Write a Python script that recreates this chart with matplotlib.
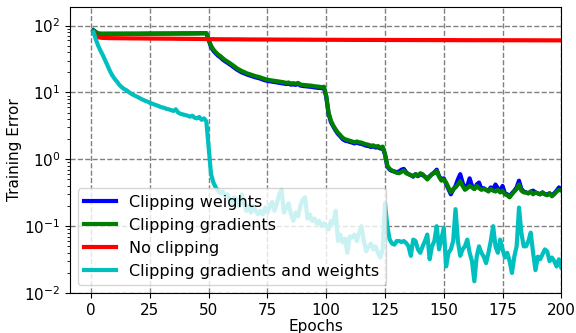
import numpy as np
import matplotlib
matplotlib.use('Agg')
from matplotlib import pyplot as plt

epochs = np.arange(1, 201)

no_clip = [80, 70, 67, 66, 65.5, 65.3, 65.2, 65, 65, 65,
           64.8, 64.8, 64.7, 64.7, 64.6, 64.6, 64.5, 64.5, 64.4, 64.4,
           64.3, 64.3, 64.2, 64.2, 64.1, 64.1, 64, 64, 64, 63.9,
           63.9, 63.8, 63.8, 63.7, 63.7, 63.6, 63.6, 63.5, 63.5, 63.4,
           63.4, 63.3, 63.3, 63.2, 63.2, 63.1, 63.1, 63, 63, 62.8,
           62.7, 62.7, 62.6, 62.6, 62.5, 62.5, 62.5, 62.4, 62.4, 62.4,
           62.3, 62.3, 62.3, 62.2, 62.2, 62.2, 62.1, 62.1, 62.1, 62,
           62, 62, 62, 61.9, 61.9, 61.9, 61.9, 61.8, 61.8, 61.8,
           61.8, 61.7, 61.7, 61.7, 61.7, 61.6, 61.6, 61.6, 61.6, 61.6,
           61.5, 61.5, 61.5, 61.5, 61.5, 61.4, 61.4, 61.4, 61.4, 61.4,
           61.3, 61.3, 61.3, 61.3, 61.3, 61.3, 61.2, 61.2, 61.2, 61.2,
           61.2, 61.2, 61.1, 61.1, 61.1, 61.1, 61.1, 61.1, 61.1, 61,
           61, 61, 61, 61, 61, 61, 61, 60.9, 60.9, 60.9,
           60.9, 60.9, 60.9, 60.9, 60.9, 60.8, 60.8, 60.8, 60.8, 60.8,
           60.8, 60.8, 60.8, 60.8, 60.7, 60.7, 60.7, 60.7, 60.7, 60.7,
           60.7, 60.7, 60.7, 60.6, 60.6, 60.6, 60.6, 60.6, 60.6, 60.6,
           60.6, 60.6, 60.6, 60.5, 60.5, 60.5, 60.5, 60.5, 60.5, 60.5,
           60.5, 60.5, 60.5, 60.5, 60.4, 60.4, 60.4, 60.4, 60.4, 60.4,
           60.4, 60.4, 60.4, 60.4, 60.4, 60.3, 60.3, 60.3, 60.3, 60.3,
           60.3, 60.3, 60.3, 60.3, 60.3, 60.3, 60.3, 60.2, 60.2, 60.2]

clip_grad = [85, 80, 76, 75.5, 75.5, 75.5, 75.5, 75.5, 75.5, 75.5,
             75.5, 75.5, 75.6, 75.6, 75.6, 75.6, 75.6, 75.7, 75.7, 75.7,
             75.8, 75.8, 75.8, 75.9, 75.9, 75.9, 76, 76, 76, 76,
             76.1, 76.1, 76.1, 76.2, 76.2, 76.2, 76.3, 76.3, 76.3, 76.4,
             76.4, 76.5, 76.5, 76.6, 76.6, 76.7, 76.8, 76.9, 77, 62,
             50, 44, 40, 37, 35, 32.5, 30.5, 29, 27.5, 26,
             24.5, 23, 22, 21, 20.3, 19.5, 19, 18.5, 18, 17.5,
             17.2, 16.8, 16.3, 15.9, 15.5, 15.3, 15.1, 14.9, 14.7, 14.5,
             14.3, 14.2, 13.9, 14.1, 13.6, 13.8, 13.5, 13.9, 13.2, 13,
             12.9, 12.8, 12.7, 12.6, 12.4, 12.3, 12.2, 12, 12.2, 9,
             5, 3.8, 3.2, 2.8, 2.5, 2.3, 2.1, 2, 1.95, 1.9,
             1.85, 1.8, 1.85, 1.8, 1.78, 1.72, 1.68, 1.65, 1.6, 1.62,
             1.55, 1.58, 1.5, 1.55, 1.2, 0.8, 0.72, 0.68, 0.65, 0.63,
             0.62, 0.65, 0.68, 0.62, 0.6, 0.58, 0.56, 0.6, 0.57, 0.62,
             0.6, 0.55, 0.5, 0.55, 0.6, 0.62, 0.67, 0.55, 0.48, 0.5,
             0.45, 0.38, 0.32, 0.36, 0.38, 0.42, 0.47, 0.4, 0.35, 0.37,
             0.4, 0.38, 0.36, 0.4, 0.37, 0.35, 0.36, 0.35, 0.33, 0.36,
             0.34, 0.33, 0.35, 0.32, 0.34, 0.3, 0.29, 0.27, 0.3, 0.33,
             0.36, 0.42, 0.34, 0.32, 0.32, 0.31, 0.33, 0.3, 0.32, 0.31,
             0.3, 0.32, 0.3, 0.29, 0.31, 0.28, 0.3, 0.33, 0.35, 0.34]

clip_weights = [85, 80, 76, 75.5, 75.5, 75.5, 75.5, 75.5, 75.5, 75.5,
                75.5, 75.5, 75.6, 75.6, 75.6, 75.6, 75.6, 75.7, 75.7, 75.7,
                75.8, 75.8, 75.8, 75.9, 75.9, 75.9, 76, 76, 76, 76,
                76.1, 76.1, 76.1, 76.2, 76.2, 76.2, 76.3, 76.3, 76.3, 76.4,
                76.4, 76.5, 76.5, 76.6, 76.6, 76.7, 76.8, 76.9, 77, 61,
                48, 42, 38.5, 35.5, 33.5, 31, 29.2, 27.8, 26.3, 24.8,
                23.4, 22, 21, 20, 19.4, 18.7, 18.2, 17.7, 17.2, 16.8,
                16.5, 16.1, 15.6, 15.2, 14.9, 14.7, 14.5, 14.3, 14.1, 13.9,
                13.7, 13.6, 13.4, 13.5, 13.1, 13.2, 13, 13.4, 12.7, 12.5,
                12.4, 12.3, 12.2, 12.1, 11.9, 11.8, 11.7, 11.6, 11.8, 8.6,
                4.8, 3.6, 3.1, 2.7, 2.4, 2.2, 2, 1.9, 1.87, 1.82,
                1.78, 1.73, 1.78, 1.72, 1.7, 1.65, 1.6, 1.58, 1.53, 1.56,
                1.5, 1.52, 1.45, 1.5, 1.18, 0.78, 0.7, 0.67, 0.66, 0.64,
                0.66, 0.7, 0.72, 0.64, 0.6, 0.58, 0.55, 0.6, 0.56, 0.6,
                0.58, 0.55, 0.52, 0.56, 0.6, 0.64, 0.7, 0.56, 0.5, 0.52,
                0.43, 0.36, 0.3, 0.35, 0.4, 0.5, 0.6, 0.45, 0.36, 0.4,
                0.52, 0.4, 0.36, 0.42, 0.45, 0.36, 0.37, 0.35, 0.34, 0.38,
                0.36, 0.42, 0.37, 0.33, 0.4, 0.31, 0.3, 0.28, 0.31, 0.34,
                0.38, 0.48, 0.36, 0.33, 0.32, 0.31, 0.33, 0.34, 0.32, 0.31,
                0.3, 0.32, 0.3, 0.3, 0.31, 0.29, 0.31, 0.34, 0.38, 0.35]

clip_both = [80, 62, 50, 42, 36, 30, 25, 21, 18, 16,
             14.5, 13, 12, 11.3, 10.8, 10.2, 9.6, 9.2, 8.8, 8.5,
             8.1, 7.8, 7.5, 7.3, 7, 6.8, 6.6, 6.4, 6.2, 6,
             5.9, 5.7, 5.6, 5.45, 5.3, 5.6, 5, 4.8, 4.7, 4.6,
             4.5, 4.35, 4.5, 4.2, 4.1, 4.3, 3.9, 4.1, 3.7, 1.5,
             0.6, 0.45, 0.38, 0.34, 0.31, 0.33, 0.28, 0.3, 0.25, 0.22,
             0.27, 0.25, 0.2, 0.3, 0.22, 0.17, 0.2, 0.16, 0.2, 0.17,
             0.15, 0.17, 0.15, 0.19, 0.16, 0.2, 0.23, 0.17, 0.22, 0.3,
             0.35, 0.16, 0.19, 0.22, 0.15, 0.12, 0.16, 0.14, 0.2, 0.25,
             0.27, 0.13, 0.15, 0.12, 0.13, 0.11, 0.12, 0.1, 0.11, 0.1,
             0.09, 0.12, 0.11, 0.17, 0.06, 0.075, 0.057, 0.065, 0.04, 0.07,
             0.068, 0.075, 0.06, 0.08, 0.1, 0.06, 0.042, 0.05, 0.055, 0.045,
             0.05, 0.04, 0.034, 0.045, 0.22, 0.1, 0.063, 0.055, 0.053, 0.06,
             0.06, 0.058, 0.06, 0.056, 0.05, 0.036, 0.063, 0.06, 0.045, 0.04,
             0.05, 0.06, 0.075, 0.032, 0.05, 0.06, 0.1, 0.045, 0.065, 0.094,
             0.025, 0.04, 0.045, 0.06, 0.18, 0.06, 0.036, 0.045, 0.05, 0.063,
             0.04, 0.03, 0.015, 0.035, 0.05, 0.04, 0.035, 0.028, 0.04, 0.06,
             0.1, 0.05, 0.04, 0.063, 0.045, 0.034, 0.04, 0.03, 0.02, 0.035,
             0.05, 0.19, 0.08, 0.05, 0.05, 0.06, 0.08, 0.04, 0.022, 0.035,
             0.032, 0.038, 0.045, 0.042, 0.03, 0.034, 0.03, 0.025, 0.032, 0.024]

plt.rcParams['font.size'] = 11
fig = plt.figure(figsize=(5.76, 3.33), dpi=100)
ax = fig.add_axes([0.1215, 0.12, 0.853, 0.859])

ax.semilogy(epochs, clip_weights, 'b', lw=3, label='Clipping weights')
ax.semilogy(epochs, clip_grad, 'g', lw=3, label='Clipping gradients')
ax.semilogy(epochs, no_clip, 'r', lw=3, label='No clipping')
ax.semilogy(epochs, clip_both, 'c', lw=3, label='Clipping gradients and weights')

ax.set_xlim(-9, 200)
ax.set_ylim(1e-2, 190)
ax.set_xticks([0, 25, 50, 75, 100, 125, 150, 175, 200])
ax.grid(True, which='major', linestyle='--', color='gray', linewidth=1)
ax.set_xlabel('Epochs', labelpad=1)
ax.set_ylabel('Training Error')
ax.yaxis.set_label_coords(-0.098, 0.5)
ax.legend(loc='lower left', fontsize=11.5)

fig.savefig('out.png', dpi=100)
